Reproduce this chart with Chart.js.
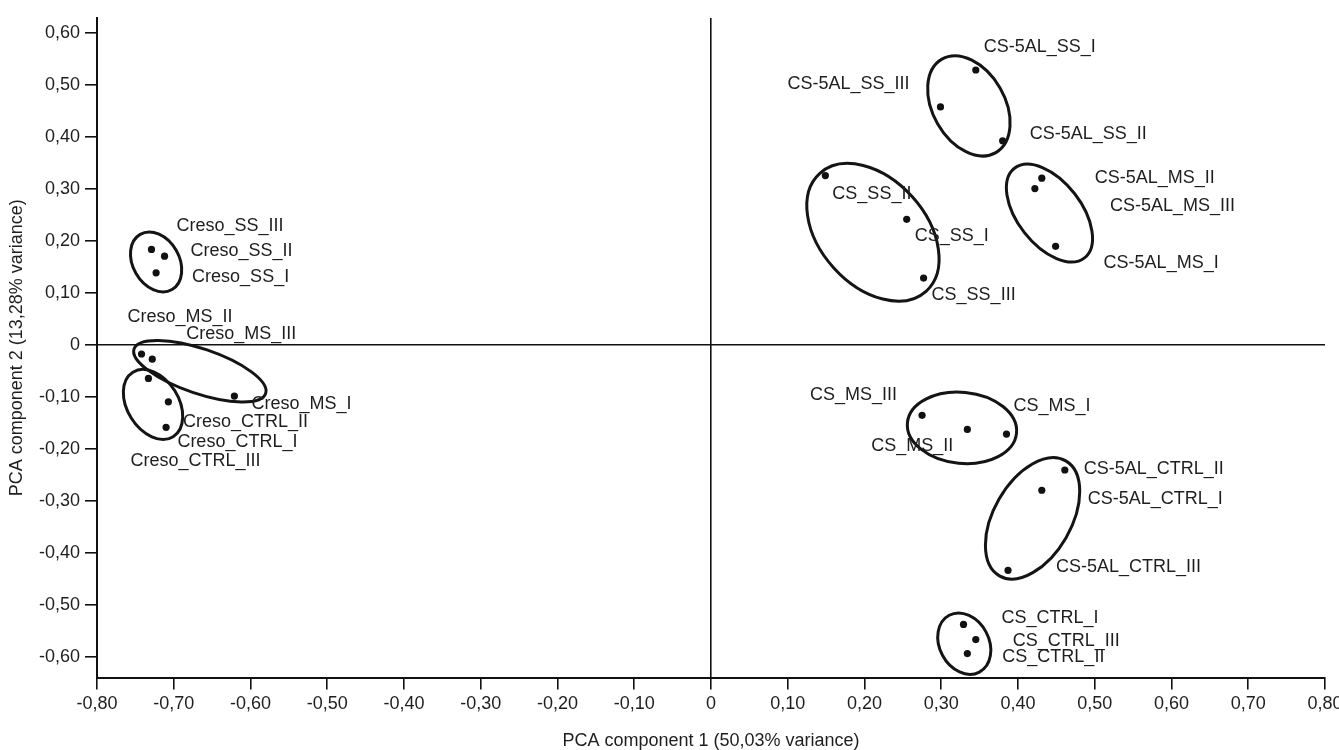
<!DOCTYPE html>
<html>
<head>
<meta charset="utf-8">
<script src="https://cdn.jsdelivr.net/npm/chart.js@4.4.1/dist/chart.umd.min.js"></script>
<style>
  html, body { margin: 0; padding: 0; background: #fff; }
  .chartBox { width: 1339px; height: 750px; position: relative; }
</style>
</head>
<body>
<div class="chartBox"><canvas id="pcaChart"></canvas></div>
<script>
// data start
const sampleNames = [
  'Creso_SS_I', 'Creso_SS_II', 'Creso_SS_III',
  'Creso_MS_I', 'Creso_MS_II', 'Creso_MS_III',
  'Creso_CTRL_I', 'Creso_CTRL_II', 'Creso_CTRL_III',
  'CS_SS_I', 'CS_SS_II', 'CS_SS_III',
  'CS_MS_I', 'CS_MS_II', 'CS_MS_III',
  'CS_CTRL_I', 'CS_CTRL_II', 'CS_CTRL_III',
  'CS-5AL_SS_I', 'CS-5AL_SS_II', 'CS-5AL_SS_III',
  'CS-5AL_MS_I', 'CS-5AL_MS_II', 'CS-5AL_MS_III',
  'CS-5AL_CTRL_I', 'CS-5AL_CTRL_II', 'CS-5AL_CTRL_III'
];
const pc1Values = [
  -0.723, -0.712, -0.729,
  -0.621, -0.742, -0.728,
  -0.707, -0.710, -0.733,
  0.255, 0.149, 0.277,
  0.385, 0.334, 0.275,
  0.329, 0.334, 0.345,
  0.345, 0.380, 0.299,
  0.449, 0.431, 0.422,
  0.431, 0.461, 0.387
];
const pc2Values = [
  0.139, 0.171, 0.184,
  -0.098, -0.017, -0.027,
  -0.109, -0.158, -0.064,
  0.242, 0.326, 0.129,
  -0.171, -0.162, -0.135,
  -0.537, -0.593, -0.566,
  0.529, 0.393, 0.458,
  0.190, 0.321, 0.301,
  -0.279, -0.240, -0.433
];

// group ellipses (centre in PC units, semi axes in PC1 units, angle in degrees)
const ellipseGroups = ['CS-5AL_SS', 'CS_SS', 'CS-5AL_MS', 'CS_MS', 'CS-5AL_CTRL', 'CS_CTRL', 'Creso_SS', 'Creso_MS', 'Creso_CTRL'];
const ellipseCenterX = [0.336, 0.211, 0.441, 0.327, 0.419, 0.330, -0.723, -0.666, -0.727];
const ellipseCenterY = [0.460, 0.217, 0.254, -0.159, -0.333, -0.574, 0.160, -0.050, -0.114];
const ellipseMajor = [0.0703, 0.1034, 0.0741, 0.0714, 0.0865, 0.0419, 0.0415, 0.0905, 0.0495];
const ellipseMinor = [0.0469, 0.0690, 0.0414, 0.0464, 0.0504, 0.0322, 0.0302, 0.0292, 0.0335];
const ellipseAngle = [60, 48, 52, 5.5, -60, 62, 60, 18.7, 58];

const xTickValues = [-0.8, -0.7, -0.6, -0.5, -0.4, -0.3, -0.2, -0.1, 0, 0.1, 0.2, 0.3, 0.4, 0.5, 0.6, 0.7, 0.8];
const yTickValues = [-0.6, -0.5, -0.4, -0.3, -0.2, -0.1, 0, 0.1, 0.2, 0.3, 0.4, 0.5, 0.6];
// data close

// label placement, pixel offset from each point (same order as sampleNames)
const labelOffsets = [
  [36, 4], [26, -5], [25, -23],
  [17, 8], [-14, -37], [34, -25],
  [9, 40], [17, -5], [-18, 83],
  [8, 17], [7, 18], [8, 17],
  [7, -28], [-96, 17], [-112, -20],
  [38, -6], [35, 3], [37, 1],
  [8, -23], [27, -7], [-153, -23],
  [48, 17], [53, 0], [75, 17],
  [46, 9], [19, -1], [48, -3]
];

const fontName = '"Liberation Sans", Arial, Helvetica, sans-serif';
const textColor = '#1e1e1e';

function tickText(v) {
  if (Math.abs(v) < 1e-9) return '0';
  return v.toFixed(2).replace('.', ',');
}

// ellipse + label plugin
const groupEllipses = {
  id: 'groupEllipses',
  afterDatasetsDraw(chart) {
    const ctx = chart.ctx;
    const xs = chart.scales.x, ys = chart.scales.y;
    const pxPerUnit = xs.getPixelForValue(1) - xs.getPixelForValue(0);
    ctx.save();
    ctx.strokeStyle = '#141414';
    ctx.lineWidth = 3;
    for (let i = 0; i < ellipseGroups.length; i++) {
      ctx.beginPath();
      ctx.ellipse(
        xs.getPixelForValue(ellipseCenterX[i]),
        ys.getPixelForValue(ellipseCenterY[i]),
        ellipseMajor[i] * pxPerUnit,
        ellipseMinor[i] * pxPerUnit,
        ellipseAngle[i] * Math.PI / 180, 0, Math.PI * 2);
      ctx.stroke();
    }
    ctx.fillStyle = textColor;
    ctx.font = '18px ' + fontName;
    ctx.textAlign = 'left';
    ctx.textBaseline = 'middle';
    for (let i = 0; i < sampleNames.length; i++) {
      const px = xs.getPixelForValue(pc1Values[i]);
      const py = ys.getPixelForValue(pc2Values[i]);
      ctx.fillText(sampleNames[i], px + labelOffsets[i][0], py + labelOffsets[i][1]);
    }
    ctx.restore();
  }
};

// chart start
const ctx = document.getElementById('pcaChart').getContext('2d');
const pcaChart = new Chart(ctx, {
  type: 'scatter',
  data: {
    datasets: [{
      label: 'Samples',
      data: pc1Values.map((v, i) => ({ x: v, y: pc2Values[i] })),
      backgroundColor: '#111',
      borderWidth: 0,
      pointRadius: 3.6,
      pointHoverRadius: 3.6
    }]
  },
  options: {
    responsive: true,
    maintainAspectRatio: false,
    animation: false,
    layout: { padding: { left: 0, right: 14, top: 18, bottom: 0 } },
    plugins: {
      legend: { display: false },
      tooltip: { enabled: false }
    },
    scales: {
      x: {
        type: 'linear',
        min: -0.8,
        max: 0.8,
        afterBuildTicks: function (scale) {
          scale.ticks = xTickValues.map(v => ({ value: v }));
        },
        afterFit: function (scale) {
          scale.height = 72.5;
          scale.paddingLeft = 0;
          scale.paddingRight = 0;
        },
        border: { display: true, color: '#111', width: 2 },
        grid: {
          color: c => (c.tick && Math.abs(c.tick.value) < 1e-9) ? '#111' : 'rgba(0,0,0,0)',
          lineWidth: 1.6,
          drawTicks: true,
          tickLength: 12,
          tickColor: '#111',
          tickWidth: 1.6
        },
        ticks: {
          color: textColor,
          padding: 4,
          maxRotation: 0,
          autoSkip: false,
          font: { family: fontName, size: 18 },
          callback: v => tickText(v)
        },
        title: {
          display: true,
          text: 'PCA component 1 (50,03% variance)',
          color: textColor,
          font: { family: fontName, size: 18, lineHeight: 1 },
          padding: { top: 0, bottom: 0 }
        }
      },
      y: {
        type: 'linear',
        min: -0.639,
        max: 0.629,
        afterBuildTicks: function (scale) {
          scale.ticks = yTickValues.map(v => ({ value: v }));
        },
        afterFit: function (scale) {
          scale.width = 97;
          scale.paddingTop = 0;
          scale.paddingBottom = 0;
        },
        border: { display: true, color: '#111', width: 2 },
        grid: {
          color: c => (c.tick && Math.abs(c.tick.value) < 1e-9) ? '#111' : 'rgba(0,0,0,0)',
          lineWidth: 1.6,
          drawTicks: true,
          tickLength: 12,
          tickColor: '#111',
          tickWidth: 1.6
        },
        ticks: {
          color: textColor,
          padding: 5,
          autoSkip: false,
          font: { family: fontName, size: 18 },
          callback: v => tickText(v)
        },
        title: {
          display: true,
          text: 'PCA component 2 (13,28% variance)',
          color: textColor,
          font: { family: fontName, size: 18, lineHeight: 1.2 },
          padding: { top: 6, bottom: 0 }
        }
      }
    }
  },
  plugins: [groupEllipses]
});
// chart close
</script>
</body>
</html>
